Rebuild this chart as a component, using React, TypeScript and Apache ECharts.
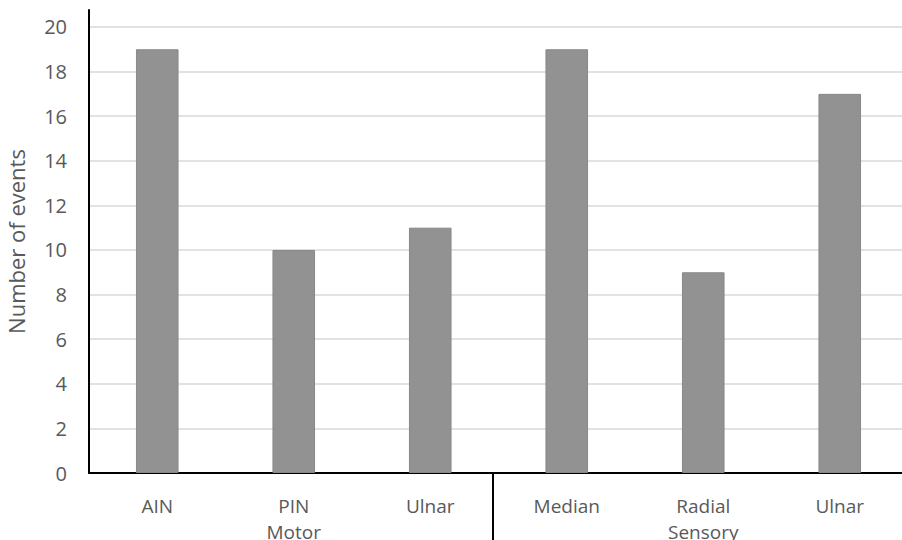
import React, { useEffect, useRef } from "react";
import * as echarts from "echarts";

const categories = ["AIN", "PIN\nMotor", "Ulnar", "Median", "Radial\nSensory", "Ulnar"];
const values = [19, 10, 11, 19, 9, 17];
const yTicks = { min: 0, max: 20.76, interval: 2 };
const yName = "Number of events";

export default function App() {
  const ref = useRef<HTMLDivElement>(null);
  useEffect(() => {
    if (!ref.current) return;
    const chart = echarts.init(ref.current, null, { renderer: "svg" });
    chart.setOption({
      animation: false,
      backgroundColor: "#ffffff",
      grid: {
        left: 89,
        right: -6,
        top: 10,
        bottom: 67,
        containLabel: false,
        outerBoundsMode: "none",
      },
      graphic: [
        {
          type: "line",
          shape: { x1: 493, y1: 473, x2: 493, y2: 540 },
          style: { stroke: "#000000", lineWidth: 2 },
          z: 10,
        },
      ],
      xAxis: {
        type: "category",
        data: categories,
        axisLine: { lineStyle: { color: "#000000", width: 2 } },
        axisTick: { show: false },
        axisLabel: {
          color: "#595959",
          fontFamily: "Open Sans",
          fontSize: 19,
          lineHeight: 26,
          margin: 20,
          interval: 0,
        },
      },
      yAxis: {
        type: "value",
        min: yTicks.min,
        max: yTicks.max,
        interval: yTicks.interval,
        name: yName,
        nameLocation: "middle",
        nameGap: 62,
        nameTextStyle: { color: "#595959", fontFamily: "Open Sans", fontSize: 22 },
        axisLine: { show: true, lineStyle: { color: "#000000", width: 2 } },
        axisTick: { show: false },
        axisLabel: {
          color: "#595959",
          fontFamily: "Open Sans",
          fontSize: 20,
          margin: 22,
          showMaxLabel: false,
        },
        splitLine: {
          show: true,
          showMaxLine: false,
          lineStyle: { color: "#d9d9d9", width: 1.5 },
        },
      },
      series: [
        {
          type: "bar",
          data: values,
          barWidth: "31.2%",
          itemStyle: { color: "#929292", borderColor: "#888888", borderWidth: 1 },
        },
      ],
    });
    return () => chart.dispose();
  }, []);
  return (
    <div
      ref={ref}
      style={{ position: "fixed", left: 0, top: 0, width: 902, height: 540 }}
    />
  );
}
